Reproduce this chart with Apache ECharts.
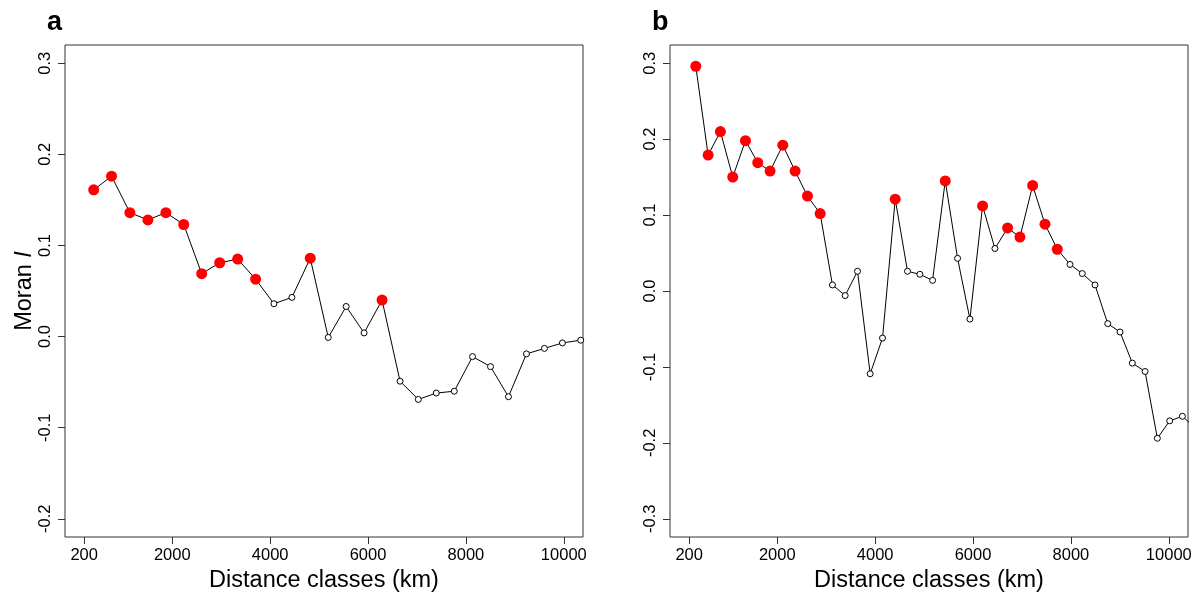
<!DOCTYPE html>
<html>
<head>
<meta charset="utf-8">
<script src="https://cdn.jsdelivr.net/npm/echarts@6/dist/echarts.min.js"></script>
<style>
html,body{margin:0;padding:0;background:#fff;}
#chart{width:1203px;height:599px;}
</style>
</head>
<body>
<div id="chart"></div>
<script>
// ---- data ----
const xTickValues = [200, 2000, 4000, 6000, 8000, 10000];
const yTicksA = [-0.2, -0.1, 0.0, 0.1, 0.2, 0.3];
const yTicksB = [-0.3, -0.2, -0.1, 0.0, 0.1, 0.2, 0.3];

const distA = [394, 759, 1134, 1502, 1869, 2234, 2601, 2969, 3336, 3703, 4077, 4444, 4819, 5187, 5552, 5919, 6286, 6654, 7027, 7394, 7762, 8135, 8502, 8869, 9237, 9604, 9971, 10345];
const moranA = [0.161, 0.176, 0.136, 0.128, 0.136, 0.123, 0.069, 0.081, 0.085, 0.063, 0.036, 0.043, 0.086, -0.001, 0.033, 0.004, 0.040, -0.049, -0.069, -0.062, -0.060, -0.022, -0.033, -0.066, -0.019, -0.013, -0.007, -0.004];
const signifA = [1,1,1,1,1,1,1,1,1,1,0,0,1,0,0,0,1,0,0,0,0,0,0,0,0,0,0,0];

const distB = [335, 587, 838, 1090, 1350, 1601, 1853, 2113, 2364, 2616, 2876, 3127, 3387, 3639, 3898, 4150, 4410, 4661, 4913, 5173, 5432, 5684, 5936, 6195, 6447, 6706, 6958, 7218, 7470, 7721, 7981, 8232, 8492, 8752, 9003, 9255, 9515, 9766, 10018, 10278, 10530];
const moranB = [0.296, 0.179, 0.210, 0.150, 0.198, 0.169, 0.158, 0.192, 0.158, 0.125, 0.102, 0.008, -0.006, 0.026, -0.109, -0.062, 0.121, 0.026, 0.022, 0.014, 0.145, 0.043, -0.037, 0.112, 0.056, 0.083, 0.071, 0.139, 0.088, 0.055, 0.035, 0.023, 0.008, -0.043, -0.054, -0.095, -0.106, -0.194, -0.171, -0.165, -0.180];
const signifB = [1,1,1,1,1,1,1,1,1,1,1,0,0,0,0,0,1,0,0,0,1,0,0,1,0,1,1,1,1,1,0,0,0,0,0,0,0,0,0,0,0];

// ---- chart ----
const FONT = "'Liberation Sans', Arial, Helvetica, sans-serif";
function buildData(xs, ys, sig) {
  return xs.map((x, i) => sig[i] ? {
    value: [x, ys[i]], symbolSize: 11,
    itemStyle: { color: '#ff0000', borderWidth: 0 }
  } : {
    value: [x, ys[i]], symbolSize: 6,
    itemStyle: { color: '#ffffff', borderColor: '#000000', borderWidth: 1 }
  });
}
function xAxisCfg(gi) {
  return {
    type: 'value', gridIndex: gi, min: -192, max: 10392,
    name: 'Distance classes (km)', nameLocation: 'middle', nameGap: 32,
    nameTextStyle: { fontSize: 23.5, color: '#000', fontFamily: FONT },
    axisLine: { show: false, onZero: false },
    axisTick: { show: true, length: 7, inside: false, customValues: xTickValues, lineStyle: { color: '#333', width: 1 } },
    axisLabel: { customValues: xTickValues, fontSize: 16.5, color: '#000', fontFamily: FONT, margin: 10,
      formatter: v => String(Math.round(v)) },
    splitLine: { show: false }
  };
}
function yAxisCfg(gi, lo, hi, ticks, withName) {
  const c = {
    type: 'value', gridIndex: gi, min: lo, max: hi,
    axisLine: { show: false, onZero: false },
    axisTick: { show: true, length: 7, inside: false, customValues: ticks, lineStyle: { color: '#333', width: 1 } },
    axisLabel: { customValues: ticks, rotate: 90, fontSize: 16.5, color: '#000', fontFamily: FONT, margin: 11,
      formatter: v => v.toFixed(1) },
    splitLine: { show: false }
  };
  if (withName) {
    c.name = 'Moran {i|I}';
    c.nameLocation = 'middle';
    c.nameGap = 28;
    c.nameTextStyle = { fontSize: 23.5, color: '#000', fontFamily: FONT,
      rich: { i: { fontSize: 23.5, fontStyle: 'italic', color: '#000', fontFamily: FONT } } };
  }
  return c;
}
const lineStyle = { color: '#000', width: 1 };
const chart = echarts.init(document.getElementById('chart'), null, { renderer: 'canvas' });
chart.setOption({
  backgroundColor: '#fff',
  animation: false,
  grid: [
    { left: 65, top: 45, width: 518, height: 492, show: true, borderColor: '#333', borderWidth: 1, backgroundColor: 'transparent' },
    { left: 670, top: 45, width: 518, height: 492, show: true, borderColor: '#333', borderWidth: 1, backgroundColor: 'transparent' }
  ],
  xAxis: [xAxisCfg(0), xAxisCfg(1)],
  yAxis: [yAxisCfg(0, -0.22, 0.32, yTicksA, true), yAxisCfg(1, -0.324, 0.324, yTicksB, false)],
  graphic: [
    { type: 'text', left: 47, top: 9, style: { text: 'a', fontSize: 27, fontWeight: 'bold', fill: '#000', fontFamily: FONT } },
    { type: 'text', left: 652, top: 9, style: { text: 'b', fontSize: 27, fontWeight: 'bold', fill: '#000', fontFamily: FONT } }
  ],
  series: [
    { type: 'line', xAxisIndex: 0, yAxisIndex: 0, data: buildData(distA, moranA, signifA),
      symbol: 'circle', showAllSymbol: true, lineStyle: lineStyle, clip: true, z: 3 },
    { type: 'line', xAxisIndex: 1, yAxisIndex: 1, data: buildData(distB, moranB, signifB),
      symbol: 'circle', showAllSymbol: true, lineStyle: lineStyle, clip: true, z: 3 }
  ]
});
</script>
</body>
</html>
